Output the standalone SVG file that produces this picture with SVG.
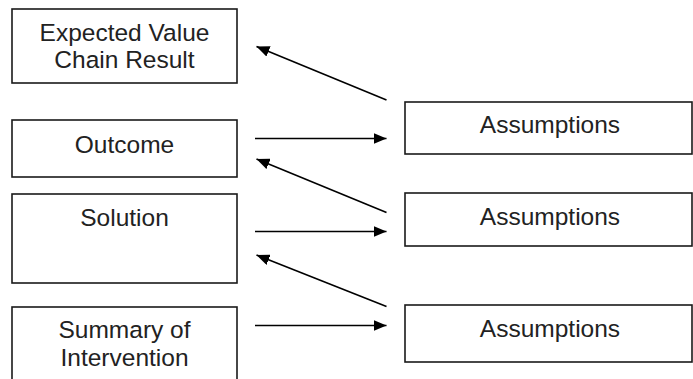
<svg xmlns="http://www.w3.org/2000/svg" width="693" height="379" viewBox="0 0 693 379">
  <style>
    .box { fill: #ffffff; stroke: #1a1a1a; stroke-width: 1.6; }
    .lbl { font-family: "Liberation Sans", Arial, sans-serif; font-size: 24.5px; fill: #222222; text-anchor: middle; }
    .edge { stroke: #000000; stroke-width: 1.6; fill: none; marker-end: url(#arrow); }
  </style>
  <defs>
    <!-- filled triangular arrowhead, about 13 px long and 11 px wide -->
    <marker id="arrow" viewBox="0 0 13 11" refX="13" refY="5.5" markerWidth="13" markerHeight="11" markerUnits="userSpaceOnUse" orient="auto">
      <path d="M0,0 L13,5.5 L0,11 Z" fill="#000000"/>
    </marker>
  </defs>
  <rect width="693" height="379" fill="#ffffff"/>

  <g id="expected-result">
    <rect class="box" x="12" y="9" width="225" height="74"/>
    <text class="lbl" x="124.5" y="41">Expected Value</text>
    <text class="lbl" x="124.5" y="68">Chain Result</text>
  </g>
  <g id="outcome">
    <rect class="box" x="12" y="120" width="225" height="57"/>
    <text class="lbl" x="124.5" y="153">Outcome</text>
  </g>
  <g id="solution">
    <rect class="box" x="12" y="194" width="225" height="89"/>
    <text class="lbl" x="124.5" y="226">Solution</text>
  </g>
  <g id="summary">
    <rect class="box" x="12" y="307" width="225" height="90"/>
    <text class="lbl" x="124.5" y="338">Summary of</text>
    <text class="lbl" x="124.5" y="366">Intervention</text>
  </g>

  <g id="assumptions-1">
    <rect class="box" x="405" y="102" width="287" height="52"/>
    <text class="lbl" x="550" y="133">Assumptions</text>
  </g>
  <g id="assumptions-2">
    <rect class="box" x="405" y="193" width="287" height="53"/>
    <text class="lbl" x="550" y="225">Assumptions</text>
  </g>
  <g id="assumptions-3">
    <rect class="box" x="405" y="305" width="287" height="57"/>
    <text class="lbl" x="550" y="337">Assumptions</text>
  </g>

  <g id="connectors">
    <line class="edge" x1="386.5" y1="100" x2="256.5" y2="46.5"/>
    <line class="edge" x1="255" y1="138.5" x2="386.5" y2="138.5"/>
    <line class="edge" x1="386.5" y1="212.5" x2="256.5" y2="159"/>
    <line class="edge" x1="255" y1="231.5" x2="386.5" y2="231.5"/>
    <line class="edge" x1="386.5" y1="306.5" x2="256.5" y2="255"/>
    <line class="edge" x1="255" y1="325.5" x2="386.5" y2="325.5"/>
  </g>
</svg>
